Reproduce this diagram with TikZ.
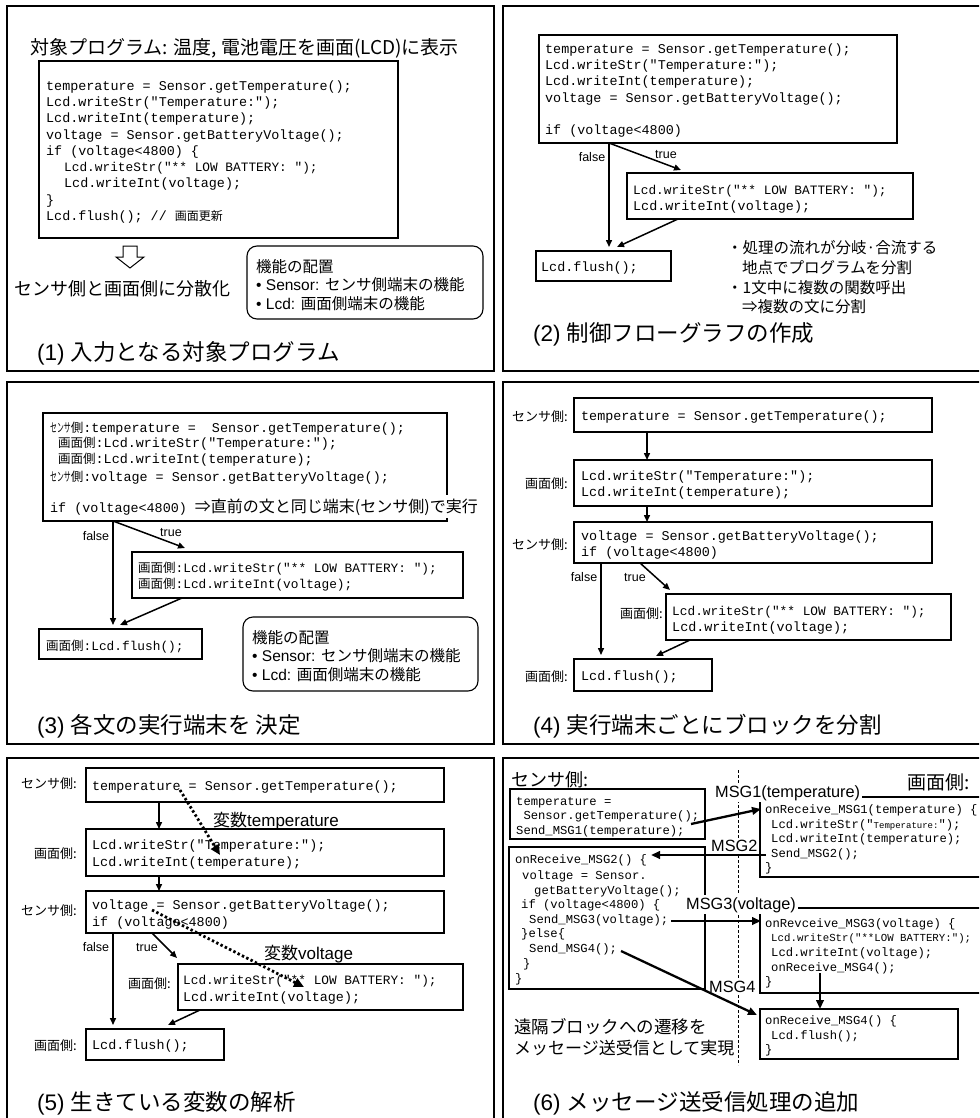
\documentclass[tikz,border=0pt]{standalone}
\usepackage{fontspec}
\usepackage{graphicx}
\setmainfont{Liberation Sans}
\newfontfamily\jp{Noto Sans CJK JP}
\newfontfamily\cd{Liberation Mono}
\usetikzlibrary{arrows.meta}
\newcommand\pj[1]{{\jp\fontsize{12.5}{12.5}\selectfont #1}}
\newcommand\hk[1]{\scalebox{0.55}[1]{#1}}
\newcommand\bx[6][]{\pgfmathsetmacro\bxw{#5-#3}\pgfmathsetmacro\bxh{#6-#4}\node[box,minimum width=\bxw pt,minimum height=\bxh pt,#1] (#2) at (#3,#4) {};}
\tikzset{
 frame/.style={draw, line width=2pt},
 box/.style={draw, line width=1.1pt, inner sep=0pt, outer sep=0pt, anchor=north west},
 codeA/.style={anchor=base west, inner sep=0pt, font=\cd\fontsize{13.4}{16}\selectfont},
 codeB/.style={anchor=base west, inner sep=0pt, font=\cd\fontsize{12.8}{15}\selectfont},
 codeC/.style={anchor=base west, inner sep=0pt, font=\cd\fontsize{12.2}{14}\selectfont},
 jt/.style={anchor=base west, inner sep=0pt, font=\jp\fontsize{18}{20}\selectfont},
 jb/.style={anchor=base west, inner sep=0pt, font=\jp\fontsize{15.5}{18}\selectfont},
 capt/.style={anchor=base west, inner sep=0pt, font=\jp\fontsize{22.5}{25}\selectfont},
 side/.style={anchor=base east, inner sep=0pt, font=\jp\fontsize{13}{14}\selectfont},
 lab/.style={anchor=base, inner sep=0pt, font=\fontsize{12.5}{14}\selectfont},
 msg/.style={anchor=base west, inner xsep=2pt, inner ysep=2pt, fill=white, font=\fontsize{16.3}{18}\selectfont},
 arr/.style={-{Triangle[length=7pt,width=6pt]}, line width=1.5pt},
 arrb/.style={-{Triangle[length=9pt,width=7.5pt]}, line width=2.3pt},
 dotarr/.style={line width=2.8pt, dash pattern=on 2.4pt off 2.4pt, -{Triangle[length=10pt,width=9pt]}},
}
\begin{document}
\begin{tikzpicture}[x=1pt,y=-1pt]
\useasboundingbox (0,0) rectangle (979,1118);
\clip (0,0) rectangle (979,1118);
% frames
\draw[frame] (7,6) rectangle (494,371);
\draw[frame] (503,6) rectangle (995,371);
\draw[frame] (7,382) rectangle (494,744);
\draw[frame] (503,382) rectangle (995,744);
\draw[frame] (7,758) rectangle (494,1130);
\draw[frame] (503,758) rectangle (995,1130);

%%%%%%%% Panel 1
\node[jt, font=\jp\fontsize{19}{20}\selectfont] (p1t) at (30,55) {対象プログラム: 温度, 電池電圧を画面(LCD)に表示};
\bx{p1b}{39}{61}{398}{238}
\node[codeA] (p1l1) at (46,90.5) {temperature = Sensor.getTemperature();};
\node[codeA] (p1l2) at (46,106.75) {Lcd.writeStr("Temperature:");};
\node[codeA] (p1l3) at (46,123) {Lcd.writeInt(temperature);};
\node[codeA] (p1l4) at (46,139.25) {voltage = Sensor.getBatteryVoltage();};
\node[codeA] (p1l5) at (46,155.5) {if (voltage<4800) \{};
\node[codeB] (p1l6) at (64,171.75) {Lcd.writeStr("** LOW BATTERY: ");};
\node[codeA] (p1l7) at (64,188) {Lcd.writeInt(voltage);};
\node[codeA] (p1l8) at (46,204.25) {\}};
\node[codeA] (p1l9) at (46,220.5) {Lcd.flush(); // {\jp\fontsize{12}{12}\selectfont 画面更新}};
\draw[line width=1pt] (123,246) -- (137,246) -- (137,257) -- (144,257) -- (130,268) -- (116,257) -- (123,257) -- cycle;
\node[jt] (p1d) at (14,295) {センサ側と画面側に分散化};
\bx[rounded corners=10pt]{p1r}{247}{246}{483}{319}
\node[jb] (p1r1) at (256,272) {機能の配置};
\node[jb] (p1r2) at (256,290) {{\rmfamily • Sensor: }センサ側端末の機能};
\node[jb] (p1r3) at (256,309) {{\rmfamily • Lcd: }画面側端末の機能};
\node[capt] (p1c) at (37,360.5) {{\rmfamily (1) }入力となる対象プログラム};

%%%%%%%% Panel 2
\bx{p2a}{539}{35}{897}{143}
\node[codeA] (p2l1) at (545,53.5) {temperature = Sensor.getTemperature();};
\node[codeA] (p2l2) at (545,69.75) {Lcd.writeStr("Temperature:");};
\node[codeA] (p2l3) at (545,86) {Lcd.writeInt(temperature);};
\node[codeA] (p2l4) at (545,102.25) {voltage = Sensor.getBatteryVoltage();};
\node[codeA] (p2l5) at (545,134.5) {if (voltage<4800)};
\bx{p2b}{627}{173}{913}{219}
\node[codeB] (p2b1) at (633,194.5) {Lcd.writeStr("** LOW BATTERY: ");};
\node[codeA] (p2b2) at (633,210.5) {Lcd.writeInt(voltage);};
\bx{p2c}{536}{251}{671}{281}
\node[codeA] (p2c1) at (541,271) {Lcd.flush();};
\draw[arr] ([xshift=70pt]p2a.south west) -- ([xshift=73pt,yshift=4pt]p2c.north west);
\draw[arr] ([xshift=70pt]p2a.south west) -- ([xshift=54pt,yshift=3pt]p2b.north west);
\draw[arr] ([xshift=51pt]p2b.south west) -- ([xshift=81pt,yshift=4pt]p2c.north west);
\node[lab] (p2f) at (592,161.5) {false};
\node[lab] (p2t) at (666,158.5) {true};
\node[jb] (p2n1) at (727,253) {・処理の流れが分岐·合流する};
\node[jb] (p2n2) at (742,273) {地点でプログラムを分割};
\node[jb] (p2n3) at (727,293) {・1文中に複数の関数呼出};
\node[jb] (p2n4) at (742,312) {⇒複数の文に分割};
\node[capt] (p2cap) at (533,341.5) {{\rmfamily (2) }制御フローグラフの作成};

%%%%%%%% Panel 3
\bx{p3a}{43}{413}{447}{521}
\node[codeA] (p3l1) at (50,432.5) {\pj{\hk{センサ}側}:temperature = \ Sensor.getTemperature();};
\node[codeA] (p3l2) at (58,447.5) {\pj{画面側}:Lcd.writeStr("Temperature:");};
\node[codeA] (p3l3) at (58,463.5) {\pj{画面側}:Lcd.writeInt(temperature);};
\node[codeA] (p3l4) at (50,481.5) {\pj{\hk{センサ}側}:voltage = Sensor.getBatteryVoltage();};
\node[codeA, fill=white, inner ysep=3pt] (p3l5) at (50,512) {if (voltage<4800) {\jp\fontsize{16}{16}\selectfont ⇒直前の文と同じ端末(センサ側)で実行}};
\bx{p3b}{132}{552}{463}{598}
\node[codeB] (p3b1) at (138,572.5) {\pj{画面側}:Lcd.writeStr("** LOW BATTERY: ");};
\node[codeB] (p3b2) at (138,588) {\pj{画面側}:Lcd.writeInt(voltage);};
\bx{p3c}{39}{629}{202}{659}
\node[codeB] (p3c1) at (46,650) {\pj{画面側}:Lcd.flush();};
\draw[arr] ([xshift=70pt]p3a.south west) -- ([xshift=74pt,yshift=4pt]p3c.north west);
\draw[arr] ([xshift=70pt]p3a.south west) -- ([xshift=53pt,yshift=4pt]p3b.north west);
\draw[arr] ([xshift=50pt]p3b.south west) -- ([xshift=81pt,yshift=4pt]p3c.north west);
\node[lab] (p3f) at (96,540.5) {false};
\node[lab] (p3t) at (171,536.5) {true};
\bx[rounded corners=10pt]{p3r}{243}{617}{478}{691}
\node[jb] (p3r1) at (252,643) {機能の配置};
\node[jb] (p3r2) at (252,661) {{\rmfamily • Sensor: }センサ側端末の機能};
\node[jb] (p3r3) at (252,680) {{\rmfamily • Lcd: }画面側端末の機能};
\node[capt] (p3cap) at (37,733.5) {{\rmfamily (3) }各文の実行端末を 決定};

%%%%%%%% Panel 4
\bx{p4a}{574}{398}{932}{432}
\node[codeA] (p4a1) at (581,420.5) {temperature = Sensor.getTemperature();};
\node[side] (p4sa) at (568,421) {センサ側:};
\bx{p4b}{574}{460}{932}{506}
\node[codeA] (p4b1) at (581,480.5) {Lcd.writeStr("Temperature:");};
\node[codeA] (p4b2) at (581,496.5) {Lcd.writeInt(temperature);};
\node[side] (p4sb) at (568,488) {画面側:};
\bx{p4c}{574}{522}{932}{563}
\node[codeA] (p4c1) at (581,540.5) {voltage = Sensor.getBatteryVoltage();};
\node[codeA] (p4c2) at (581,556.5) {if (voltage<4800)};
\node[side] (p4sc) at (568,549) {センサ側:};
\bx{p4d}{666}{594}{951}{640}
\node[codeB] (p4d1) at (672,615.5) {Lcd.writeStr("** LOW BATTERY: ");};
\node[codeA] (p4d2) at (672,631.5) {Lcd.writeInt(voltage);};
\node[side] (p4sd) at (663,618) {画面側:};
\bx{p4e}{574}{659}{712}{691}
\node[codeA] (p4e1) at (581,680.5) {Lcd.flush();};
\node[side] (p4se) at (568,681) {画面側:};
\draw[arr] ([xshift=73pt]p4a.south west) -- ([xshift=73pt]p4b.north west);
\draw[arr] ([xshift=73pt]p4b.south west) -- ([xshift=73pt]p4c.north west);
\draw[arr] ([xshift=27pt]p4c.south west) -- ([xshift=27pt,yshift=4pt]p4e.north west);
\draw[arr] ([xshift=66pt]p4c.south west) -- ([xshift=4pt,yshift=4pt]p4d.north west);
\draw[arr] ([xshift=24pt]p4d.south west) -- ([xshift=82pt,yshift=3pt]p4e.north west);
\node[lab] (p4f) at (584,581.5) {false};
\node[lab] (p4t) at (635,581.5) {true};
\node[capt] (p4cap) at (533,733.5) {{\rmfamily (4) }実行端末ごとにブロックを分割};

%%%%%%%% Panel 5
\bx{p5a}{86}{768}{444}{802}
\node[codeA] (p5a1) at (92,790.5) {temperature = Sensor.getTemperature();};
\node[side] (p5sa) at (77,788) {センサ側:};
\bx{p5b}{86}{829}{444}{876}
\node[codeA] (p5b1) at (92,849.5) {Lcd.writeStr("Temperature:");};
\node[codeA] (p5b2) at (92,866.5) {Lcd.writeInt(temperature);};
\node[side] (p5sb) at (77,858) {画面側:};
\bx{p5c}{86}{891}{444}{933}
\node[codeA] (p5c1) at (92,909.5) {voltage = Sensor.getBatteryVoltage();};
\node[codeA] (p5c2) at (92,926.5) {if (voltage<4800)};
\node[side] (p5sc) at (77,915) {センサ側:};
\bx{p5d}{178}{964}{463}{1010}
\node[codeB] (p5d1) at (183,984.5) {Lcd.writeStr("** LOW BATTERY: ");};
\node[codeA] (p5d2) at (183,1001.5) {Lcd.writeInt(voltage);};
\node[side] (p5sd) at (171,988) {画面側:};
\bx{p5e}{86}{1029}{224}{1060}
\node[codeA] (p5e1) at (92,1049.5) {Lcd.flush();};
\node[side] (p5se) at (77,1050) {画面側:};
\draw[arr] ([xshift=73pt]p5a.south west) -- ([xshift=73pt]p5b.north west);
\draw[arr] ([xshift=73pt]p5b.south west) -- ([xshift=73pt]p5c.north west);
\draw[arr] ([xshift=27pt]p5c.south west) -- ([xshift=27pt,yshift=4pt]p5e.north west);
\draw[arr] ([xshift=66pt]p5c.south west) -- ([xshift=-1pt,yshift=6pt]p5d.north west);
\draw[arr] ([xshift=22pt]p5d.south west) -- ([xshift=82pt,yshift=4pt]p5e.north west);
\node[lab] (p5f) at (96,951.5) {false};
\node[lab] (p5t) at (147,951.5) {true};
\coordinate (v1s) at (180,790);
\coordinate (v1e) at (220,855);
\coordinate (v2s) at (152,910);
\coordinate (v2e) at (304,987);
\draw[dotarr] (v1s) -- (v1e);
\draw[dotarr] (v2s) -- (v2e);
\node[jt, font=\jp\fontsize{17}{18}\selectfont] (p5v1) at (213,826.5) {変数{\rmfamily temperature}};
\node[jt, font=\jp\fontsize{17}{18}\selectfont] (p5v2) at (264,959.5) {変数{\rmfamily voltage}};
\node[capt] (p5cap) at (37,1110.5) {{\rmfamily (5) }生きている変数の解析};

%%%%%%%% Panel 6
\coordinate (dl1) at (738,770);
\coordinate (dl2) at (738,1065);
\draw[line width=0.8pt, dash pattern=on 3pt off 2pt] (dl1) -- (dl2);
\node[jt, font=\jp\fontsize{18}{20}\selectfont] (p6s) at (511,786) {センサ側:};
\node[jt, font=\jp\fontsize{19}{20}\selectfont] (p6g) at (907,789) {画面側:};
\bx{p6s1}{510}{789}{705}{839}
\node[codeC] (s1a) at (516,805) {temperature =};
\node[codeC] (s1b) at (516,819.5) {\ Sensor.getTemperature();};
\node[codeC] (s1c) at (516,834) {Send\_MSG1(temperature);};
\bx{p6s2}{509}{847}{705}{989}
\node[codeC] (s2a) at (515,863) {onReceive\_MSG2() \{};
\node[codeC] (s2b) at (522,879) {voltage = Sensor.};
\node[codeC] (s2c) at (534,894) {getBatteryVoltage();};
\node[codeC] (s2d) at (521,908) {if (voltage<4800) \{};
\node[codeC] (s2e) at (529,923) {Send\_MSG3(voltage);};
\node[codeC] (s2f) at (521,937) {\}else\{};
\node[codeC] (s2g) at (529,952) {Send\_MSG4();};
\node[codeC] (s2h) at (523,967) {\}};
\node[codeC] (s2i) at (515,982) {\}};
\bx{p6r1}{760}{797}{995}{877}
\node[codeC] (r1a) at (765,813) {onReceive\_MSG1(temperature) \{};
\node[codeC] (r1b) at (771,828) {Lcd.writeStr("{\fontsize{9}{10}\selectfont Temperature:}");};
\node[codeC] (r1c) at (771,842) {Lcd.writeInt(temperature);};
\node[codeC] (r1d) at (771,857) {Send\_MSG2();};
\node[codeC] (r1e) at (765,871) {\}};
\bx{p6r2}{760}{908}{995}{993}
\node[codeC] (r2a) at (765,927) {onRevceive\_MSG3(voltage) \{};
\node[codeC, font=\cd\fontsize{10.75}{12}\selectfont] (r2b) at (771,941) {Lcd.writeStr("**LOW BATTERY:");};
\node[codeC] (r2c) at (771,956) {Lcd.writeInt(voltage);};
\node[codeC] (r2d) at (771,971) {onReceive\_MSG4();};
\node[codeC] (r2e) at (765,985) {\}};
\bx{p6r3}{760}{1009}{958}{1059}
\node[codeC] (r3a) at (765,1024) {onReceive\_MSG4() \{};
\node[codeC] (r3b) at (771,1039) {Lcd.flush();};
\node[codeC] (r3c) at (765,1053) {\}};
\node[msg] (m1) at (713,797) {MSG1(temperature)};
\node[msg] (m2) at (709,851) {MSG2};
\node[msg] (m3) at (684,909) {MSG3(voltage)};
\node[msg] (m4) at (707,992) {MSG4};
\draw[arrb] ([xshift=-14pt,yshift=-10pt]p6s1.east) -- ([xshift=1pt,yshift=-12pt]p6r1.north west);
\draw[arrb] ([xshift=6pt,yshift=-58pt]p6r1.north west) -- ([xshift=142pt,yshift=-8pt]p6s2.north west);
\draw[arrb] ([xshift=162pt,yshift=-74pt]p6s2.north west) -- ([xshift=1pt,yshift=-13pt]p6r2.north west);
\draw[arrb] ([xshift=112pt,yshift=-104pt]p6s2.north west) -- ([xshift=-3pt,yshift=-6pt]p6r3.north west);
\draw[arrb] ([xshift=60pt,yshift=-65pt]p6r2.north west) -- ([xshift=60pt]p6r3.north west);
\node[jt, font=\jp\fontsize{17.5}{19}\selectfont] (p6n1) at (514,1033.5) {遠隔ブロックへの遷移を};
\node[jt, font=\jp\fontsize{17}{19}\selectfont] (p6n2) at (514,1054.5) {メッセージ送受信として実現};
\node[capt] (p6cap) at (533,1110.5) {{\rmfamily (6) }メッセージ送受信処理の追加};
\end{tikzpicture}
\end{document}
